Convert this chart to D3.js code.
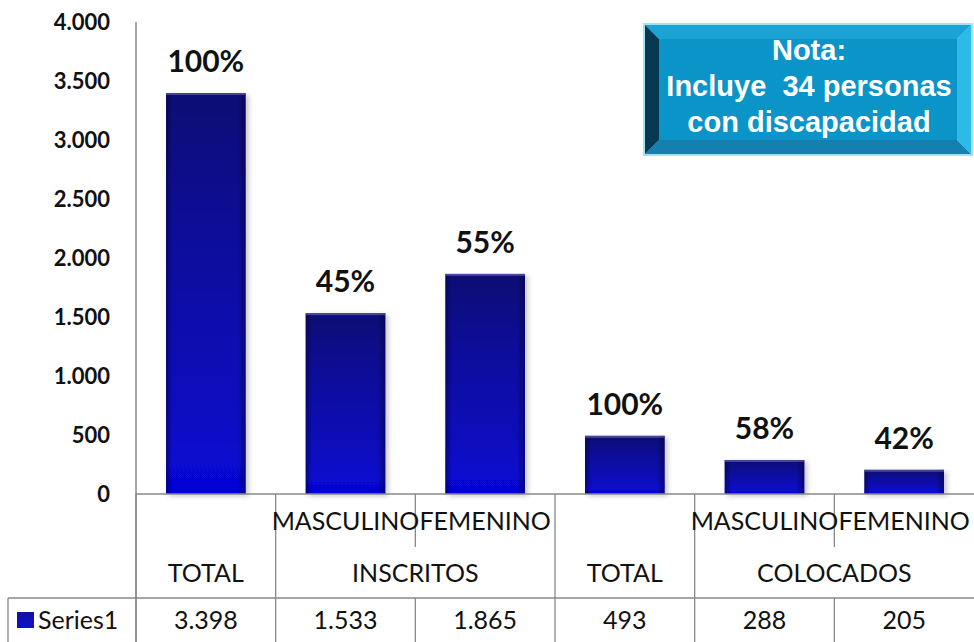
<!DOCTYPE html>
<html>
<head>
<meta charset="utf-8">
<script src="https://cdn.jsdelivr.net/npm/d3@7/dist/d3.min.js"></script>
<style>
  html, body { margin: 0; padding: 0; background: #ffffff; }
  svg { display: block; }
</style>
</head>
<body>
<svg id="chart" width="974" height="642"></svg>
<script>
// ---- Data ----
const subLabels   = ["", "MASCULINO", "FEMENINO", "", "MASCULINO", "FEMENINO"];
const groupLabels = ["TOTAL", "INSCRITOS", "TOTAL", "COLOCADOS"];
const groupSpans  = [1, 2, 1, 2];
const values      = [3398, 1533, 1865, 493, 288, 205];
const percentLabels = ["100%", "45%", "55%", "100%", "58%", "42%"];
const yTicks      = [0, 500, 1000, 1500, 2000, 2500, 3000, 3500, 4000];
const seriesName  = "Series1";
const noteLines   = ["Nota:", "Incluye  34 personas", "con discapacidad"];

(function () {
// ---- Layout ----
const pLeft = 136, pRight = 974, pTop = 22, base = 494;
const row1 = 547, row2 = 598, row3 = 642;
const font = "Lato, 'Open Sans', 'DejaVu Sans', sans-serif";

const svg = d3.select("#chart");
const loc = d3.formatLocale({decimal: ",", thousands: ".", grouping: [3], currency: ["", ""]});
const fmt = loc.format(",d");

const x = d3.scaleBand().domain(d3.range(values.length)).range([pLeft, pRight])
  .paddingInner(0.43).paddingOuter(0.215);
const y = d3.scaleLinear().domain([0, 4000]).range([base, pTop]);

// defs
const defs = svg.append("defs");
const g1 = defs.append("linearGradient").attr("id", "barGrad")
  .attr("x1", 0).attr("y1", 0).attr("x2", 0).attr("y2", 1);
g1.append("stop").attr("offset", "0%").attr("stop-color", "#0d0d74");
g1.append("stop").attr("offset", "35%").attr("stop-color", "#10109a");
g1.append("stop").attr("offset", "75%").attr("stop-color", "#0c0cbc");
g1.append("stop").attr("offset", "100%").attr("stop-color", "#0505d8");
const g2 = defs.append("linearGradient").attr("id", "edgeGrad")
  .attr("x1", 0).attr("y1", 0).attr("x2", 1).attr("y2", 0);
g2.append("stop").attr("offset", "0%").attr("stop-color", "#000030").attr("stop-opacity", 0.5);
g2.append("stop").attr("offset", "8%").attr("stop-color", "#000030").attr("stop-opacity", 0.0);
g2.append("stop").attr("offset", "90%").attr("stop-color", "#000030").attr("stop-opacity", 0.0);
g2.append("stop").attr("offset", "100%").attr("stop-color", "#000030").attr("stop-opacity", 0.5);
const sh = defs.append("filter").attr("id", "shadow").attr("x", "-20%").attr("y", "-20%")
  .attr("width", "140%").attr("height", "140%");
sh.append("feDropShadow").attr("dx", 3).attr("dy", 2).attr("stdDeviation", 2.5)
  .attr("flood-color", "#000000").attr("flood-opacity", 0.22);
const lg = defs.append("linearGradient").attr("id", "legGrad")
  .attr("x1", 0).attr("y1", 0).attr("x2", 0).attr("y2", 1);
lg.append("stop").attr("offset", "0%").attr("stop-color", "#1212a0");
lg.append("stop").attr("offset", "100%").attr("stop-color", "#1010d0");

// y axis labels
svg.append("g").selectAll("text").data(yTicks).join("text")
  .attr("x", 110).attr("y", d => y(d)).attr("dy", "0.36em")
  .attr("text-anchor", "end")
  .attr("font-family", font).attr("font-weight", "bold").attr("font-size", 22)
  .attr("fill", "#111").text(d => fmt(d));

// bars
const bars = svg.append("g");
bars.selectAll("rect.bar").data(values).join("rect").attr("class", "bar")
  .attr("x", (d, i) => x(i)).attr("width", x.bandwidth())
  .attr("y", d => y(d)).attr("height", d => base - y(d))
  .attr("fill", "url(#barGrad)").attr("filter", "url(#shadow)");
bars.selectAll("rect.edge").data(values).join("rect").attr("class", "edge")
  .attr("x", (d, i) => x(i)).attr("width", x.bandwidth())
  .attr("y", d => y(d)).attr("height", d => base - y(d))
  .attr("fill", "url(#edgeGrad)");
bars.selectAll("rect.topline").data(values).join("rect").attr("class", "topline")
  .attr("x", (d, i) => x(i)).attr("width", x.bandwidth())
  .attr("y", d => y(d)).attr("height", 2)
  .attr("fill", "#6a6ab0").attr("opacity", 0.6);

// percent labels
svg.append("g").selectAll("text").data(values).join("text")
  .attr("x", (d, i) => x(i) + x.bandwidth() / 2).attr("y", d => y(d) - 21)
  .attr("text-anchor", "middle")
  .attr("font-family", font).attr("font-weight", "bold").attr("font-size", 30)
  .attr("fill", "#111").text((d, i) => percentLabels[i]);

// axes lines
const lineCol = "#888888";
svg.append("line").attr("x1", pLeft).attr("x2", pLeft).attr("y1", pTop).attr("y2", row3)
  .attr("stroke", lineCol).attr("stroke-width", 1.5);
svg.append("line").attr("x1", pLeft).attr("x2", pRight).attr("y1", base).attr("y2", base)
  .attr("stroke", lineCol).attr("stroke-width", 1.5);

// table grid
const step = x.step();
const colEdge = i => pLeft + i * step;
const tbl = svg.append("g").attr("stroke", lineCol).attr("stroke-width", 1.3);
let acc = 0;
const groupStarts = groupSpans.map(s => { const st = acc; acc += s; return st; });
groupStarts.forEach(st => {
  tbl.append("line").attr("x1", colEdge(st)).attr("x2", colEdge(st))
    .attr("y1", base).attr("y2", row3);
});
groupStarts.forEach((st, gi) => {
  for (let k = 1; k < groupSpans[gi]; k++) {
    const xe = colEdge(st + k);
    tbl.append("line").attr("x1", xe).attr("x2", xe).attr("y1", base).attr("y2", row1);
    tbl.append("line").attr("x1", xe).attr("x2", xe).attr("y1", row2).attr("y2", row3);
  }
});
tbl.append("line").attr("x1", 8).attr("x2", pRight).attr("y1", row2).attr("y2", row2);
tbl.append("line").attr("x1", 8).attr("x2", 8).attr("y1", row2).attr("y2", row3);

// sub labels
svg.append("g").selectAll("text").data(subLabels).join("text")
  .attr("x", (d, i) => x(i) + x.bandwidth() / 2).attr("y", (base + row1) / 2)
  .attr("dy", "0.36em").attr("text-anchor", "middle")
  .attr("font-family", font).attr("font-size", 25).attr("fill", "#111").text(d => d);

// group labels
svg.append("g").selectAll("text").data(groupLabels).join("text")
  .attr("x", (d, i) => colEdge(groupStarts[i]) + groupSpans[i] * step / 2)
  .attr("y", (row1 + row2) / 2).attr("dy", "0.36em").attr("text-anchor", "middle")
  .attr("font-family", font).attr("font-size", 25).attr("fill", "#111").text(d => d);

// values row
svg.append("g").selectAll("text").data(values).join("text")
  .attr("x", (d, i) => x(i) + x.bandwidth() / 2).attr("y", (row2 + row3) / 2)
  .attr("dy", "0.36em").attr("text-anchor", "middle")
  .attr("font-family", font).attr("font-size", 25).attr("fill", "#111").text(d => fmt(d));

// legend key
svg.append("rect").attr("x", 17).attr("y", 612).attr("width", 17).attr("height", 16)
  .attr("fill", "url(#legGrad)");
svg.append("text").attr("x", 38).attr("y", (row2 + row3) / 2).attr("dy", "0.36em")
  .attr("font-family", font).attr("font-size", 25).attr("fill", "#111").text(seriesName);

// note box
const nb = {x: 643, y: 23, w: 330, h: 133, b: 14};
const note = svg.append("g");
note.append("rect").attr("x", nb.x).attr("y", nb.y).attr("width", nb.w).attr("height", nb.h)
  .attr("fill", "#9fe3f5");
const ox = nb.x + 2, oy = nb.y + 2, ow = nb.w - 4, oh = nb.h - 4, b = nb.b;
const pts = a => a.map(p => p.join(",")).join(" ");
note.append("polygon").attr("fill", "#1ba3d6")
  .attr("points", pts([[ox, oy], [ox + ow, oy], [ox + ow - b, oy + b], [ox + b, oy + b]]));
note.append("polygon").attr("fill", "#1580b0")
  .attr("points", pts([[ox, oy + oh], [ox + ow, oy + oh], [ox + ow - b, oy + oh - b], [ox + b, oy + oh - b]]));
note.append("polygon").attr("fill", "#073a52")
  .attr("points", pts([[ox, oy], [ox + b, oy + b], [ox + b, oy + oh - b], [ox, oy + oh]]));
note.append("polygon").attr("fill", "#2bbbe6")
  .attr("points", pts([[ox + ow, oy], [ox + ow - b, oy + b], [ox + ow - b, oy + oh - b], [ox + ow, oy + oh]]));
note.append("rect").attr("x", ox + b).attr("y", oy + b).attr("width", ow - 2 * b).attr("height", oh - 2 * b)
  .attr("fill", "#0b94c8");
note.selectAll("text").data(noteLines).join("text")
  .attr("x", 809).attr("y", (d, i) => 60 + i * 36)
  .attr("text-anchor", "middle").style("white-space", "pre")
  .attr("font-family", "'Liberation Sans', Arial, sans-serif").attr("font-weight", "bold")
  .attr("font-size", 29).attr("fill", "#ffffff").text(d => d);
})();
</script>
</body>
</html>
